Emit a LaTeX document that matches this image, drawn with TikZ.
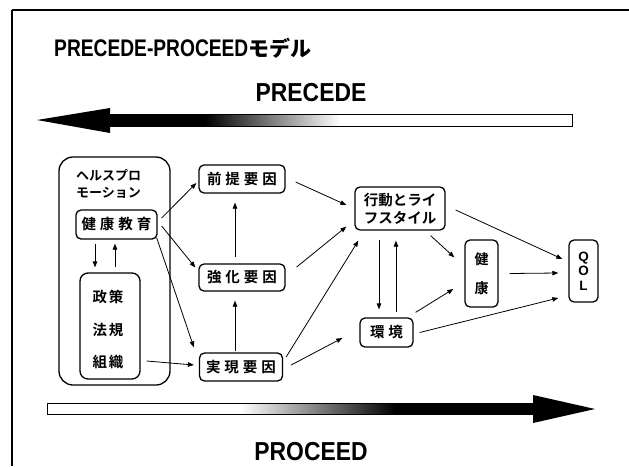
\documentclass[tikz,border=0pt]{standalone}
\usepackage{fontspec}
\setmainfont{Liberation Sans}
\newfontfamily\jpb{Noto Sans CJK JP Bold}
\usetikzlibrary{arrows.meta,calc}

% extra spacing between spaced-out characters
\newcommand\ks{\kern4pt}
\newcommand\kn{\kern2pt}

\begin{document}
\begin{tikzpicture}[x=1pt,y=-1pt,
  box/.style={draw,line width=1.3pt,rounded corners=5pt,inner sep=0pt},
  jtext/.style={font=\jpb\fontsize{14.5}{17}\selectfont,inner sep=0pt},
  arr/.style={line width=0.8pt,-{Triangle[length=6pt,width=4.5pt]}},
  latbig/.style={font=\bfseries\fontsize{26}{29}\selectfont,inner sep=0pt}]

\useasboundingbox (0,0) rectangle (629,466);
\fill[white] (0,0) rectangle (629,466);

% slide frame
\draw[line width=1.1pt] (12,10) -- (629,10);
\draw[line width=1.1pt] (12,10) -- (12,466);

% title
\node[anchor=base west,inner sep=0pt] (title) at (54,56)
  {\fontsize{24}{28}\selectfont\bfseries\scalebox{0.8}[1]{PRECEDE-PROCEED}{\jpb\fontsize{21}{26}\selectfont モデル}};

% PRECEDE band (pointing left)
\node[latbig] (precede) at (311,93) {\scalebox{0.88}[1]{PRECEDE}};
\fill (110,108) -- (37,120) -- (110,133) -- cycle;
\fill (110,114) rectangle (205,126);
\shade[left color=black,right color=white] (205,114) rectangle (340,126);
\draw[line width=0.8pt] (110,114) rectangle (572,126);

% PROCEED band (pointing right)
\node[latbig] (proceed) at (311,452) {\scalebox{0.88}[1]{PROCEED}};
\shade[left color=white,right color=black] (240,403) rectangle (395,414);
\fill (395,403) rectangle (533,414);
\fill (533,395) -- (595,409) -- (533,423) -- cycle;
\draw[line width=0.8pt] (47,403) rectangle (533,414);

% health promotion group
\node[box,rounded corners=14pt,minimum width=111pt,minimum height=228pt] (hp) at (114.5,271) {};
\node[jtext,font=\jpb\fontsize{13}{15}\selectfont,anchor=west] (hp1) at (76,175) {ヘルスプロ};
\node[jtext,font=\jpb\fontsize{13}{15}\selectfont,anchor=west] (hp2) at (76,193) {モーション};
\node[box,jtext,minimum width=81pt,minimum height=29pt] (edu) at (116.5,224.5) {健\ks 康\ks 教\ks 育};
\node[box,rounded corners=8pt,minimum width=60pt,minimum height=106pt] (pol) at (110,326) {};
\node[jtext] (t1) at (108,297) {政\kn 策};
\node[jtext] (t2) at (108,330) {法\kn 規};
\node[jtext] (t3) at (108,362) {組\kn 織};

% factors
\node[box,jtext,minimum width=86pt,minimum height=28pt] (zentei) at (242,179) {前\ks 提\ks 要\ks 因};
\node[box,jtext,minimum width=86pt,minimum height=27pt] (kyoka) at (242,277.5) {強\ks 化\ks 要\ks 因};
\node[box,jtext,minimum width=83pt,minimum height=28pt] (jitsu) at (241,367) {実\ks 現\ks 要\ks 因};

% behaviour, environment, health, QOL
\node[box,jtext,font=\jpb\fontsize{14.5}{18}\selectfont,align=center,minimum width=90pt,minimum height=43pt] (kodo) at (400,208.5) {行動とライ\\フスタイル};
\node[box,jtext,minimum width=53pt,minimum height=29pt] (kankyo) at (386.5,332.5) {環\ks 境};
\node[box,jtext,font=\jpb\fontsize{14}{29}\selectfont,align=center,minimum width=33pt,minimum height=67pt] (kenko) at (481.5,273.5) {健\\康};
\node[box,inner sep=0pt,font=\bfseries\fontsize{13.5}{14.5}\selectfont,align=center,minimum width=29pt,minimum height=62pt] (qol) at (583.5,271) {Q\\O\\L};

% connectors
\draw[arr] ($(edu.east)+(4,-6.5)$) -- ($(zentei.west)+(-2,4)$);
\draw[arr] ($(edu.east)+(4,1.5)$) -- ($(kyoka.west)+(-3,-10)$);
\draw[arr] ($(edu.south east)+(-1,-2)$) -- ($(jitsu.north west)+(-5,-5)$);
\draw[arr] ($(pol.east|-t3)+(6,-1)$) -- ($(jitsu.west)+(-5,-2)$);
\draw[arr] ($(edu.south)+(-21.5,4)$) -- ($(pol.north)+(-15,-5)$);
\draw[arr] ($(pol.north)+(5,-5)$) -- ($(edu.south)+(-1.5,4)$);
\draw[arr] ($(kyoka.north)+(-7,-6)$) -- ($(zentei.south)+(-7,9)$);
\draw[arr] ($(jitsu.north)+(-6,-1)$) -- ($(kyoka.south)+(-7,9)$);

\draw[arr] ($(zentei.east)+(10,3)$) -- ($(kodo.west)+(-8,-3.5)$);
\draw[arr] ($(kyoka.east)+(11,-10.5)$) -- ($(kodo.south west)+(-8,-4)$);
\draw[arr] ($(jitsu.east)+(3,-10)$) -- ($(kodo.south west)+(4,10)$);
\draw[arr] ($(jitsu.east)+(8,-2)$) -- ($(kankyo.west)+(-17,5.5)$);

\draw[arr] ($(kodo.south)+(-21,9)$) -- ($(kankyo.north)+(-7.5,-8)$);
\draw[arr] ($(kankyo.north)+(9.5,-5)$) -- ($(kodo.south)+(-4,10)$);
\draw[arr] ($(kodo.south east)+(-15,5)$) -- ($(kenko.north west)+(-10,18)$);
\draw[arr] ($(kodo.east)+(10,1.5)$) -- ($(qol.west)+(-6,-12)$);
\draw[arr] ($(kenko.east)+(11,0)$) -- ($(qol.west)+(-10,2)$);
\draw[arr] ($(kankyo.north east)+(2,-5)$) -- ($(kenko.west)+(-11,15.5)$);
\draw[arr] ($(kankyo.east)+(6,0)$) -- ($(qol.west)+(-10,27)$);
\end{tikzpicture}
\end{document}
